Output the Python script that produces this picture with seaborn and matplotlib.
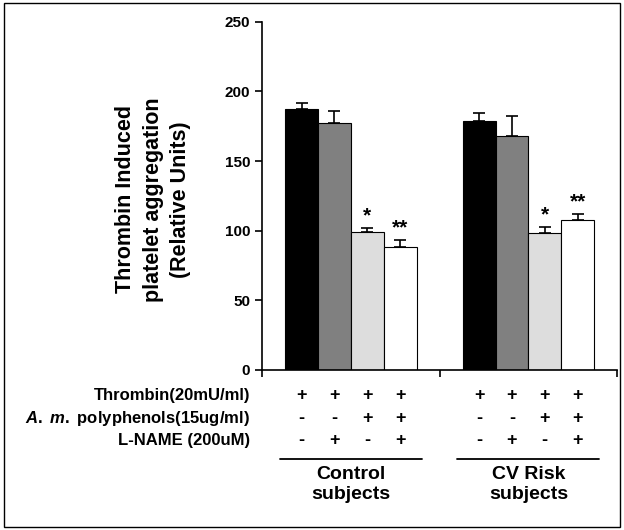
import numpy as np
import pandas as pd
import matplotlib
matplotlib.use("Agg")
import matplotlib.pyplot as plt
import seaborn as sns
from matplotlib.patches import Rectangle

groups = ["Control", "CV Risk"]
group_labels = ["Control\nsubjects", "CV Risk\nsubjects"]
treatments = ["Thrombin", "Thrombin + L-NAME", "Thrombin + A. m.", "Thrombin + A. m. + L-NAME"]
control_values = [187, 177, 99, 88]
control_err = [5, 9, 3, 5]
cv_values = [179, 168, 98, 108]
cv_err = [5.5, 14, 4.5, 4]
control_marks = ["", "", "*", "**"]
cv_marks = ["", "", "*", "**"]
bar_colors = ["#000000", "#808080", "#DDDDDD", "#FFFFFF"]

row_names = ["Thrombin(20mU/ml)", r"$\it{A.\ m.}$ polyphenols(15ug/ml)", "L-NAME (200uM)"]
thrombin_row = ["+", "+", "+", "+"]
am_row = ["-", "-", "+", "+"]
lname_row = ["-", "+", "-", "+"]
yticks = [0, 50, 100, 150, 200, 250]

df = pd.DataFrame({
    "group": np.repeat(groups, len(treatments)),
    "treatment": treatments * len(groups),
    "value": control_values + cv_values,
    "err": control_err + cv_err,
    "mark": control_marks + cv_marks,
})

sns.set_style("white")
plt.rcParams["font.family"] = ["Liberation Sans", "DejaVu Sans"]
plt.rcParams.update({
    "text.color": "black", "axes.labelcolor": "black",
    "xtick.color": "black", "ytick.color": "black",
    "mathtext.fontset": "custom",
    "mathtext.it": "Liberation Sans:bold:italic",
    "mathtext.rm": "Liberation Sans:bold",
})

fig = plt.figure(figsize=(6.24, 5.30), dpi=100)
ax = fig.add_axes([0.42, 0.302, 0.569, 0.657])

sns.barplot(data=df, x="group", y="value", hue="treatment", order=groups,
            hue_order=treatments, palette=bar_colors, width=0.74,
            errorbar=None, edgecolor="black", linewidth=0.8, ax=ax)
ax.get_legend().remove()

# error bars (upper only) and significance stars
bar_containers = list(ax.containers)
centers = {}
for ti, cont in enumerate(bar_containers):
    for gi, bar in enumerate(cont):
        row = df[(df.group == groups[gi]) & (df.treatment == treatments[ti])].iloc[0]
        xc = bar.get_x() + bar.get_width() / 2
        top = bar.get_height()
        centers[(gi, ti)] = (xc, bar.get_x(), bar.get_x() + bar.get_width())
        ax.errorbar([xc], [top], yerr=[[0], [row.err]], fmt="none",
                    ecolor="black", elinewidth=1.2, capsize=4, capthick=1.2)
        if row.mark:
            ax.text(xc, top + row.err + 5, row.mark, ha="center", va="baseline",
                    fontsize=15, fontweight="bold")

ax.set_ylim(0, 250)
ax.set_xlim(-0.5, 1.5)
ax.set_yticks(yticks)
ax.set_yticklabels([str(t) for t in yticks], fontsize=11, fontweight="bold")
ax.set_xticks([-0.5, 0.5, 1.5])
ax.set_xticklabels([])
ax.tick_params(axis="both", direction="out", length=5, width=1.2, color="black",
               left=True, bottom=True)
for s in ["top", "right"]:
    ax.spines[s].set_visible(False)
for s in ["left", "bottom"]:
    ax.spines[s].set_color("black")
    ax.spines[s].set_linewidth(1.2)
ax.set_xlabel("")
ax.set_ylabel("Thrombin Induced\nplatelet aggregation\n(Relative Units)",
              fontsize=15.5, fontweight="bold", linespacing=1.4)
ax.yaxis.set_label_coords(-0.20, 0.49)

# treatment table under the axis
trans = ax.get_xaxis_transform()
row_y = [-0.072, -0.139, -0.204]
for ri, name in enumerate(row_names):
    ax.text(-0.034, row_y[ri], name, transform=ax.transAxes, ha="right",
            va="center", fontsize=12, fontweight="bold")
for gi in range(len(groups)):
    for ti in range(len(treatments)):
        xc = centers[(gi, ti)][0]
        for ri, row in enumerate([thrombin_row, am_row, lname_row]):
            ax.text(xc, row_y[ri], row[ti], transform=trans, ha="center",
                    va="center", fontsize=13, fontweight="bold", clip_on=False)
    x0 = centers[(gi, 0)][1] - 0.03
    x1 = centers[(gi, len(treatments) - 1)][2] + 0.03
    ax.plot([x0, x1], [-0.255, -0.255], transform=trans, color="black",
            lw=1.3, clip_on=False)
    ax.text((x0 + x1) / 2, -0.33, group_labels[gi], transform=trans,
            ha="center", va="center", fontsize=14, fontweight="bold",
            linespacing=1.25)

fig.add_artist(Rectangle((0.006, 0.006), 0.988, 0.988, transform=fig.transFigure,
                         fill=False, edgecolor="black", linewidth=1))

fig.savefig("out.png", dpi=100)
